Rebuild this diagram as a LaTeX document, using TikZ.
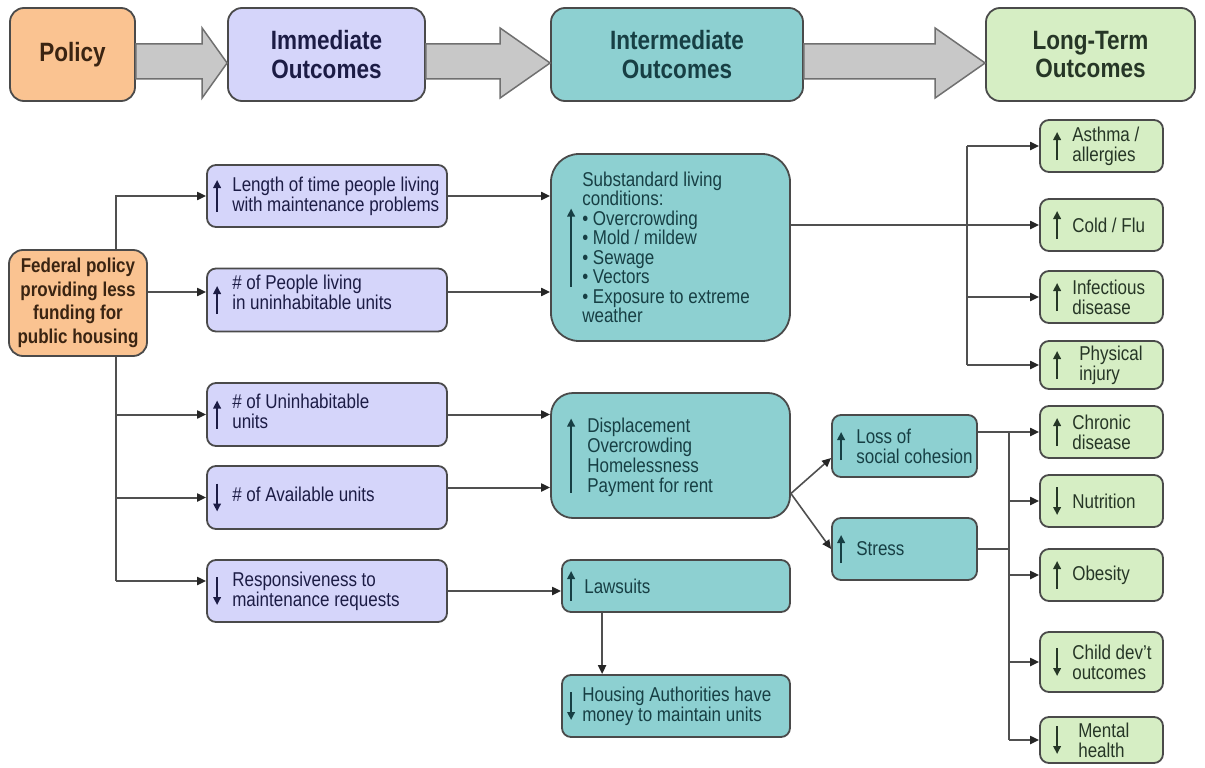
\documentclass[tikz,border=0pt]{standalone}
\usepackage{fontspec}
\setmainfont{Liberation Sans}[FakeStretch=0.85]
\usetikzlibrary{arrows.meta,calc}
\definecolor{orF}{HTML}{FAC391}
\definecolor{lavF}{HTML}{D5D5FA}
\definecolor{tealF}{HTML}{8DD0D1}
\definecolor{grnF}{HTML}{D6EEC4}
\definecolor{bordC}{HTML}{4A4A4A}
\definecolor{lineC}{HTML}{505050}
\definecolor{garF}{HTML}{C8C8C8}
\definecolor{garD}{HTML}{707070}
\definecolor{navyT}{HTML}{1C1C45}
\definecolor{tealT}{HTML}{173F44}
\definecolor{grnT}{HTML}{263626}
\definecolor{brnT}{HTML}{3A2412}
\newcommand\bodyfnt{\fontsize{20}{20}\selectfont}
\newcommand\hdfnt{\bfseries\fontsize{26.5}{28.5}\selectfont}
\newcommand\gup[4]{\draw[glyph,#4] ($(#1.west)+(#2,#3)$) -- ($(#1.west)+(#2,-#3)$);}
\newcommand\gdn[4]{\draw[glyph,#4] ($(#1.west)+(#2,-#3)$) -- ($(#1.west)+(#2,#3)$);}
\newcommand\hdarrow[3]{\draw[garrow] ($(#1.east)+(0,-10.5)$) -- ($(#2.west)+(-#3,-10.5)$) -- ($(#2.west)+(-#3,-26.5)$) -- ($(#2.west)+(0,8.5)$) -- ($(#2.west)+(-#3,43.5)$) -- ($(#2.west)+(-#3,24.5)$) -- ($(#1.east)+(0,24.5)$) -- cycle;}
\begin{document}
\begin{tikzpicture}[x=1pt,y=-1pt,
  box/.style={draw=bordC, line width=1.8pt, rounded corners=9pt, inner sep=0pt},
  hdr/.style={box, rounded corners=14pt, minimum height=93pt, align=center, font=\hdfnt, text=navyT},
  lav/.style={box, fill=lavF},
  teal/.style={box, fill=tealF},
  grn/.style={box, fill=grnF, minimum width=123pt},
  txt/.style={anchor=west, align=left, inner sep=0pt, font=\bodyfnt},
  conn/.style={draw=lineC, line width=2pt, -{Triangle[length=9pt,width=8pt,color=black!85]}},
  plain/.style={draw=lineC, line width=2pt},
  glyph/.style={line width=2pt, -{Triangle[length=8pt,width=7.5pt]}},
  garrow/.style={fill=garF, draw=garD, line width=1.5pt, line join=miter}]
\useasboundingbox (0,0) rectangle (1205,768);
\fill[white] (0,0) rectangle (1205,768);

% header
\node[hdr, fill=orF, minimum width=125pt, text=brnT] (P0) at (72.5,54.5) {Policy};
\node[hdr, fill=lavF, minimum width=197pt] (H1) at (326.5,54.5) {Immediate\\Outcomes};
\node[hdr, fill=tealF, minimum width=252pt, text=tealT] (H2) at (677,54.5) {Intermediate\\Outcomes};
\node[hdr, fill=grnF, minimum width=209pt, text=grnT] (H3) at (1090.5,54.5) {Long-Term\\Outcomes};
\hdarrow{P0}{H1}{25}
\hdarrow{H1}{H2}{50}
\hdarrow{H2}{H3}{50}

% federal policy
\node[box, fill=orF, rounded corners=14pt, minimum width=138pt, minimum height=106pt, align=center,
  font=\bfseries\fontsize{20}{23.5}\selectfont, text=brnT] (F) at (78,303)
  {Federal policy\\providing less\\funding for\\public housing};
\coordinate (T) at (116,0);

% immediate outcomes
\node[lav, minimum width=240pt, minimum height=62pt] (L1) at (327,196) {};
\node[lav, minimum width=240pt, minimum height=63pt] (L2) at (327,300) {};
\node[lav, minimum width=240pt, minimum height=63pt] (L3) at (327,414.5) {};
\node[lav, minimum width=240pt, minimum height=63pt] (L4) at (327,497.5) {};
\node[lav, minimum width=240pt, minimum height=62pt] (L5) at (327,591) {};
\node[txt, text=navyT] (L1t) at ($(L1.west)+(26,0)$) {Length of time people living\\with maintenance problems};
\node[txt, text=navyT] (L2t) at ($(L2.west)+(26,-8)$) {\# of People living\\in uninhabitable units};
\node[txt, text=navyT] (L3t) at ($(L3.west)+(26,-3)$) {\# of Uninhabitable\\units};
\node[txt, text=navyT] (L4t) at ($(L4.west)+(26,-3)$) {\# of Available units};
\node[txt, text=navyT] (L5t) at ($(L5.west)+(26,0)$) {Responsiveness to\\maintenance requests};
\gup{L1}{11}{16}{navyT}
\gup{L2}{11}{14}{navyT}
\gup{L3}{11}{14}{navyT}
\gdn{L4}{11}{14}{navyT}
\gdn{L5}{11}{14}{navyT}

% intermediate outcomes
\node[teal, rounded corners=28pt, minimum width=239pt, minimum height=187pt] (S) at (670.5,247.5) {};
\node[txt, text=tealT, font=\fontsize{20}{19.5}\selectfont] (St) at ($(S.west)+(32,0)$) {Substandard living\\conditions:\\• Overcrowding\\• Mold / mildew\\• Sewage\\• Vectors\\• Exposure to extreme\\weather};
\gup{S}{21}{39}{tealT}
\node[teal, rounded corners=22pt, minimum width=239pt, minimum height=125pt] (D) at (670.5,455.5) {};
\node[txt, text=tealT] (Dt) at ($(D.west)+(37,2)$) {Displacement\\Overcrowding\\Homelessness\\Payment for rent};
\gup{D}{21}{37}{tealT}
\node[teal, minimum width=228pt, minimum height=52pt] (Law) at (676,586) {};
\node[txt, text=tealT] (Lawt) at ($(Law.west)+(23,0)$) {Lawsuits};
\gup{Law}{10}{15}{tealT}
\node[teal, minimum width=228pt, minimum height=62pt] (Hs) at (676,706) {};
\node[txt, text=tealT] (Hst) at ($(Hs.west)+(21,0)$) {Housing Authorities have\\money to maintain units};
\gdn{Hs}{10}{14}{tealT}
\node[teal, minimum width=145pt, minimum height=62pt] (Loss) at (904.5,446) {};
\node[txt, text=tealT] (Losst) at ($(Loss.west)+(25,0)$) {Loss of\\social cohesion};
\gup{Loss}{10}{14}{tealT}
\node[teal, minimum width=145pt, minimum height=62pt] (Stress) at (904.5,549) {};
\node[txt, text=tealT] (Stresst) at ($(Stress.west)+(25,0)$) {Stress};
\gup{Stress}{10}{14}{tealT}

% long-term outcomes
\node[grn, minimum height=52pt] (G1) at (1101.5,146) {};
\node[grn, minimum height=52pt] (G2) at (1101.5,225) {};
\node[grn, minimum height=52pt] (G3) at (1101.5,297) {};
\node[grn, minimum height=48pt] (G4) at (1101.5,365) {};
\node[grn, minimum height=52pt] (G5) at (1101.5,432) {};
\node[grn, minimum height=52pt] (G6) at (1101.5,501) {};
\node[grn, minimum height=52pt] (G7) at (1101.5,575) {};
\node[grn, minimum height=60pt] (G8) at (1101.5,662) {};
\node[grn, minimum height=46pt] (G9) at (1101.5,740) {};
\node[txt, text=grnT] (G1t) at ($(G1.west)+(33,0)$) {Asthma /\\allergies};
\node[txt, text=grnT] (G2t) at ($(G2.west)+(33,0)$) {Cold / Flu};
\node[txt, text=grnT] (G3t) at ($(G3.west)+(33,0)$) {Infectious\\disease};
\node[txt, text=grnT] (G4t) at ($(G4.west)+(40,0)$) {Physical\\injury};
\node[txt, text=grnT] (G5t) at ($(G5.west)+(33,0)$) {Chronic\\disease};
\node[txt, text=grnT] (G6t) at ($(G6.west)+(33,0)$) {Nutrition};
\node[txt, text=grnT] (G7t) at ($(G7.west)+(33,0)$) {Obesity};
\node[txt, text=grnT] (G8t) at ($(G8.west)+(33,0)$) {Child dev’t\\outcomes};
\node[txt, text=grnT] (G9t) at ($(G9.west)+(39,0)$) {Mental\\health};
\gup{G1}{18}{14}{grnT}
\gup{G2}{18}{14}{grnT}
\gup{G3}{18}{14}{grnT}
\gup{G4}{18}{14}{grnT}
\gup{G5}{18}{14}{grnT}
\gdn{G6}{18}{14}{grnT}
\gup{G7}{18}{14}{grnT}
\gdn{G8}{18}{14}{grnT}
\gdn{G9}{18}{14}{grnT}

% connectors: policy -> immediate
\draw[conn] (F.north -| T) |- (L1.west);
\coordinate (l2i) at ($(L2.west)+(0,-8)$);
\draw[conn] (l2i -| F.east) -- (l2i);
\coordinate (l5i) at ($(L5.west)+(0,-10)$);
\draw[plain] (F.south -| T) -- (T |- l5i);
\draw[conn] (T |- L3.west) -- (L3.west);
\draw[conn] (T |- L4.west) -- (L4.west);
\draw[conn] (T |- l5i) -- (l5i);

% immediate -> intermediate
\draw[conn] (L1.east) -- (L1.east -| S.west);
\coordinate (l2o) at ($(L2.east)+(0,-8)$);
\draw[conn] (l2o) -- (l2o -| S.west);
\draw[conn] (L3.east) -- (L3.east -| D.west);
\coordinate (l4o) at ($(L4.east)+(0,-10)$);
\draw[conn] (l4o) -- (l4o -| D.west);
\draw[conn] (L5.east) -- (L5.east -| Law.west);
\coordinate (lawd) at ($(Law.south west)+(41,0)$);
\draw[conn] (lawd) -- (lawd |- Hs.north);
\coordinate (dsrc) at ($(D.east)+(0,38)$);
\draw[conn, line width=1.6pt] (dsrc) -- ($(Loss.west)+(0,12)$);
\draw[conn, line width=1.6pt] (dsrc) -- (Stress.west);

% intermediate -> long-term
\coordinate (B1) at (967,0);
\draw[conn] (S.east |- G2.west) -- (G2.west);
\draw[plain] (B1 |- G1.west) -- (B1 |- G4.west);
\draw[conn] (B1 |- G1.west) -- (G1.west);
\draw[conn] (B1 |- G3.west) -- (G3.west);
\draw[conn] (B1 |- G4.west) -- (G4.west);
\coordinate (B2) at (1009,0);
\draw[conn] (Loss.east |- G5.west) -- (G5.west);
\draw[plain] (Stress.east) -- (Stress.east -| B2);
\draw[plain] (B2 |- G5.west) -- (B2 |- G9.west);
\draw[conn] (B2 |- G6.west) -- (G6.west);
\draw[conn] (B2 |- G7.west) -- (G7.west);
\draw[conn] (B2 |- G8.west) -- (G8.west);
\draw[conn] (B2 |- G9.west) -- (G9.west);
\end{tikzpicture}
\end{document}
